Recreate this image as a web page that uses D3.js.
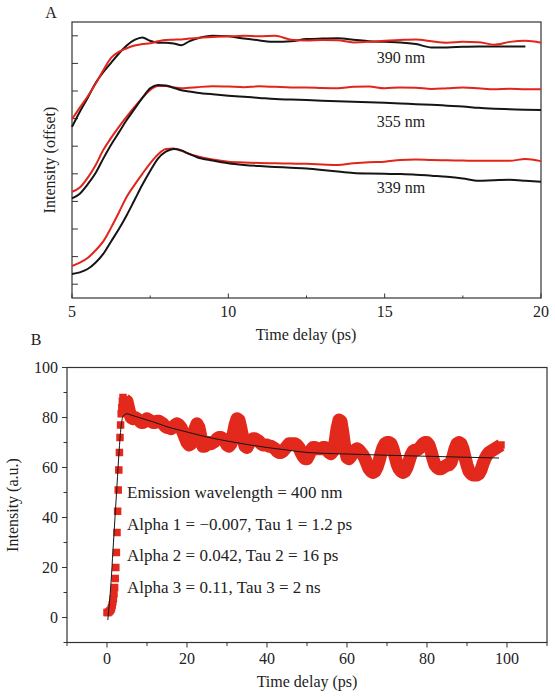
<!DOCTYPE html>
<html><head><meta charset="utf-8">
<script src="https://cdn.jsdelivr.net/npm/d3@7"></script>
<style>
html,body{margin:0;padding:0;background:#fff;}
svg text{font-family:"Liberation Serif","DejaVu Serif",serif;fill:#222;}
</style></head>
<body>
<svg id="chart" width="555" height="697"></svg>
<script>
// ---------- Panel A data ----------
const timeA = [5,5.25,5.5,5.75,6,6.25,6.5,6.75,7,7.25,7.5,7.75,8,8.25,8.5,8.75,9,
  9.5,10,10.5,11,11.5,12,12.5,13,13.5,14,14.5,15,15.5,16,16.5,17,17.5,18,18.5,19,19.5,20];
const black390 = [6.2,6.75,7.25,7.78,8.18,8.52,8.86,9.15,9.35,9.44,9.32,9.25,9.25,9.22,9.16,9.3,9.4,
  9.5,9.48,9.4,9.33,9.28,9.3,9.38,9.4,9.41,9.36,9.3,9.28,9.26,9.2,9.08,9.08,9.1,9.11,9.11,9.11,9.11,null];
const red390 = [6.48,6.9,7.3,7.75,8.25,8.7,8.92,9.05,9.15,9.2,9.23,9.3,9.35,9.36,9.37,9.4,9.42,
  9.46,9.48,9.5,9.48,9.5,9.36,9.33,9.35,9.34,9.26,9.28,9.32,9.35,9.37,9.3,9.25,9.28,9.27,9.18,9.28,9.32,9.25];
const black355 = [3.61,3.78,4.12,4.52,5.05,5.55,6.0,6.45,6.85,7.25,7.6,7.72,7.7,7.62,7.53,7.48,7.44,
  7.38,7.33,7.29,7.25,7.21,7.19,7.17,7.15,7.13,7.11,7.09,7.07,7.05,7.02,7.0,6.97,6.94,6.89,6.86,6.84,6.82,6.81];
const red355 = [3.85,4.0,4.35,4.8,5.36,5.8,6.2,6.57,6.92,7.25,7.54,7.68,7.68,7.63,7.6,7.62,7.64,
  7.67,7.66,7.64,7.67,7.65,7.63,7.63,7.61,7.6,7.65,7.66,7.6,7.63,7.62,7.57,7.6,7.63,7.6,7.56,7.58,7.56,7.56];
const black339 = [0.87,0.93,1.05,1.28,1.6,2.05,2.5,3.0,3.55,4.1,4.6,5.05,5.3,5.4,5.35,5.22,5.1,
  4.98,4.88,4.82,4.78,4.75,4.72,4.69,4.64,4.58,4.53,4.51,4.5,4.49,4.47,4.43,4.39,4.33,4.25,4.27,4.28,4.25,4.21];
const red339 = [1.16,1.28,1.45,1.72,2.05,2.55,3.1,3.67,4.1,4.5,4.88,5.2,5.4,5.42,5.33,5.22,5.14,
  5.02,4.94,4.91,4.89,4.88,4.87,4.86,4.84,4.82,4.88,4.92,4.94,5.0,5.02,5.0,4.99,4.98,4.97,4.97,4.97,5.04,4.96];
const labelsA = ["390 nm","355 nm","339 nm"];
const labelValA = [8.5, 6.2, 3.8];
const xTicksA = [5,10,15,20];
const xMinorA = [7.5,12.5,17.5];
const yTicksA = [0.5,1.5,2.5,3.5,4.5,5.5,6.5,7.5,8.5,9.5];

// ---------- Panel B data ----------
const timeRise = [0,0.25,0.5,0.75,1.0,1.15,1.3,1.45,1.6,1.75,1.9,2.05,2.2,2.35,2.5,2.65,2.8,2.95,3.1,3.25,3.4,3.55,3.7,3.85,4.0];
const intensityRise = [2,2,2.3,2.7,3.3,4,5,6.2,7.5,9.5,12,15.6,20,26,34,42.5,51,59,66,72,77,81.5,84,86.5,88];
const timeMain = d3.range(4.5, 98.6, 0.5);
const intensityMain = [
  87,86.5,83,80,79.5,80,79.5,79,78,78,78.5,
  79.5,79,78.5,78,78,78.5,78.5,78,77.5,76.5,
  76,76,75.5,76,77,77.5,77,76,74,72,
  70,69,69.5,72,75.5,77.5,76,72,68.5,68.5,
  69.5,70,69.5,70,70.5,71.5,72,72,71.5,70.5,
  69,68.5,69.5,73,77,79.5,79,75.5,71.5,68.5,
  68,69.5,71,71.5,71.5,71,70.5,69.5,69,69,
  69,68.5,68.5,68,67.5,66.5,66,66,66.5,67.5,
  68.5,69.5,69.5,69.5,69.5,69,68,66,64.5,63.5,
  63.5,65,67,68,68,67.5,67.5,67.5,68,68,
  67,66,65.5,66.5,70,75.5,79,78.5,73.5,67.5,
  64,63.5,64.5,66,67,67.5,67,66,65,63.5,
  61.5,59.5,58.5,58,58.5,60,62.5,65.5,68,69.5,
  70,70,69.5,67.5,64.5,61.5,59.5,58.5,58,58.5,
  60,62.5,65,66.5,67,67,67.5,68.5,69.5,70,
  70,69,66.5,63.5,61,60,59.5,59.5,60,60.5,
  61,61,62,64.5,67.5,69.5,70,69.5,67.5,64,
  61,58.5,57.5,57,57,57,57.5,59,61.5,63.5,
  65,66,66.5,67,67.5,68,68.5,69];
const fitTime = [0.2,1,1.5,2,2.5,3,3.5,4,5,6,8,10,12,15,20,25,30,35,40,45,50,60,70,80,90,98];
const fitValue = [-1,14,27,40,53,66,76,80.5,81.5,81,80,79,78,76.3,74.2,72.2,70.6,69.2,68,67,66,65.4,64.9,64.5,64.1,63.8];
const annotB = ["Emission wavelength = 400 nm","Alpha 1 = \u22120.007, Tau 1 = 1.2 ps","Alpha 2 = 0.042, Tau 2 = 16 ps","Alpha 3 = 0.11, Tau 3 = 2 ns"];
const xTicksB = [0,20,40,60,80,100];
const xMinorB = [-10,10,30,50,70,90,110];
const yTicksB = [0,20,40,60,80,100];
const yMinorB = [-10,10,30,50,70,90];

const RED_A = "#e3241b", RED_B = "#e2291c", BLK = "#151515", AX = "#333";
const svg = d3.select("#chart");

// ================= Panel A =================
const xA = d3.scaleLinear().domain([5,20]).range([72,541]);
const yA = d3.scaleLinear().domain([0,10]).range([298,22]);
const gA = svg.append("g");
gA.append("rect").attr("x",72).attr("y",22).attr("width",469).attr("height",276)
  .attr("fill","none").attr("stroke",AX).attr("stroke-width",1.2);
gA.selectAll(".xt").data(xTicksA).join("line").attr("class","xt")
  .attr("x1",d=>xA(d)).attr("x2",d=>xA(d)).attr("y1",298).attr("y2",293.5)
  .attr("stroke",AX).attr("stroke-width",1);
gA.selectAll(".xm").data(xMinorA).join("line").attr("class","xm")
  .attr("x1",d=>xA(d)).attr("x2",d=>xA(d)).attr("y1",298).attr("y2",295.5)
  .attr("stroke",AX).attr("stroke-width",1);
gA.selectAll(".xl").data(xTicksA).join("text").attr("class","xl")
  .attr("x",d=>xA(d)).attr("y",317).attr("text-anchor","middle").attr("font-size",16).text(d=>d);
gA.selectAll(".yt").data(yTicksA).join("line").attr("class","yt")
  .attr("x1",72).attr("x2",78).attr("y1",d=>yA(d)).attr("y2",d=>yA(d))
  .attr("stroke",AX).attr("stroke-width",1);

const lineA = d3.line().defined(d=>d[1]!=null).x(d=>xA(d[0])).y(d=>yA(d[1])).curve(d3.curveMonotoneX);
const seriesA = [
  {v:red339,c:RED_A},{v:black339,c:BLK},
  {v:red355,c:RED_A},{v:black355,c:BLK},
  {v:black390,c:BLK},{v:red390,c:RED_A}];
seriesA.forEach(s=>{
  gA.append("path").datum(timeA.map((t,i)=>[t,s.v[i]]))
    .attr("d",lineA).attr("fill","none").attr("stroke",s.c).attr("stroke-width",2)
    .attr("stroke-linejoin","round");
});
gA.selectAll(".lab").data(labelsA).join("text").attr("class","lab")
  .attr("x",401).attr("y",(d,i)=>yA(labelValA[i])).attr("text-anchor","middle")
  .attr("font-size",16).text(d=>d);
gA.append("text").attr("x",51).attr("y",18).attr("text-anchor","middle").attr("font-size",16).text("A");
gA.append("text").attr("transform","translate(55,160) rotate(-90)").attr("text-anchor","middle")
  .attr("font-size",16).text("Intensity (offset)");
gA.append("text").attr("x",306).attr("y",340).attr("text-anchor","middle").attr("font-size",16).text("Time delay (ps)");

// ================= Panel B =================
const xB = d3.scaleLinear().domain([-10,110]).range([67,547]);
const yB = d3.scaleLinear().domain([-10,100]).range([642.5,367.5]);
const gB = svg.append("g");
gB.append("rect").attr("x",67).attr("y",367.5).attr("width",480).attr("height",275)
  .attr("fill","none").attr("stroke",AX).attr("stroke-width",1.2);
gB.selectAll(".bxt").data(xTicksB).join("line").attr("class","bxt")
  .attr("x1",d=>xB(d)).attr("x2",d=>xB(d)).attr("y1",642.5).attr("y2",647.5).attr("stroke",AX);
gB.selectAll(".bxm").data(xMinorB).join("line").attr("class","bxm")
  .attr("x1",d=>xB(d)).attr("x2",d=>xB(d)).attr("y1",642.5).attr("y2",646).attr("stroke",AX);
gB.selectAll(".bxl").data(xTicksB).join("text").attr("class","bxl")
  .attr("x",d=>xB(d)).attr("y",664).attr("text-anchor","middle").attr("font-size",16).text(d=>d);
gB.selectAll(".byt").data(yTicksB).join("line").attr("class","byt")
  .attr("x1",62).attr("x2",67).attr("y1",d=>yB(d)).attr("y2",d=>yB(d)).attr("stroke",AX);
gB.selectAll(".bym").data(yMinorB).join("line").attr("class","bym")
  .attr("x1",63.5).attr("x2",67).attr("y1",d=>yB(d)).attr("y2",d=>yB(d)).attr("stroke",AX);
gB.selectAll(".byl").data(yTicksB).join("text").attr("class","byl")
  .attr("x",58).attr("y",d=>yB(d)+5.5).attr("text-anchor","end").attr("font-size",16).text(d=>d);

const mainPts = timeMain.map((t,i)=>[t,intensityMain[i]]);
const risePts = timeRise.map((t,i)=>[t,intensityRise[i]]);
const lineB = d3.line().x(d=>xB(d[0])).y(d=>yB(d[1]));
// dense band of data
gB.append("path").datum(mainPts).attr("d",lineB).attr("fill","none")
  .attr("stroke",RED_B).attr("stroke-width",13).attr("stroke-linejoin","round");
const sq = 7.5;
gB.selectAll(".pt").data(risePts.concat(mainPts)).join("rect").attr("class","pt")
  .attr("x",d=>xB(d[0])-sq/2).attr("y",d=>yB(d[1])-sq/2).attr("width",sq).attr("height",sq)
  .attr("fill",RED_B);
// fit line
gB.append("path").datum(fitTime.map((t,i)=>[t,fitValue[i]]))
  .attr("d",lineB.curve(d3.curveMonotoneX)).attr("fill","none").attr("stroke",BLK).attr("stroke-width",1);

gB.selectAll(".ann").data(annotB).join("text").attr("class","ann")
  .attr("x",127).attr("y",(d,i)=>498+i*31.5).attr("font-size",17).text(d=>d);
gB.append("text").attr("x",36).attr("y",345).attr("text-anchor","middle").attr("font-size",16).text("B");
gB.append("text").attr("transform","translate(18,505) rotate(-90)").attr("text-anchor","middle")
  .attr("font-size",16).text("Intensity (a.u.)");
gB.append("text").attr("x",307).attr("y",687).attr("text-anchor","middle").attr("font-size",16).text("Time delay (ps)");
</script>
</body></html>
